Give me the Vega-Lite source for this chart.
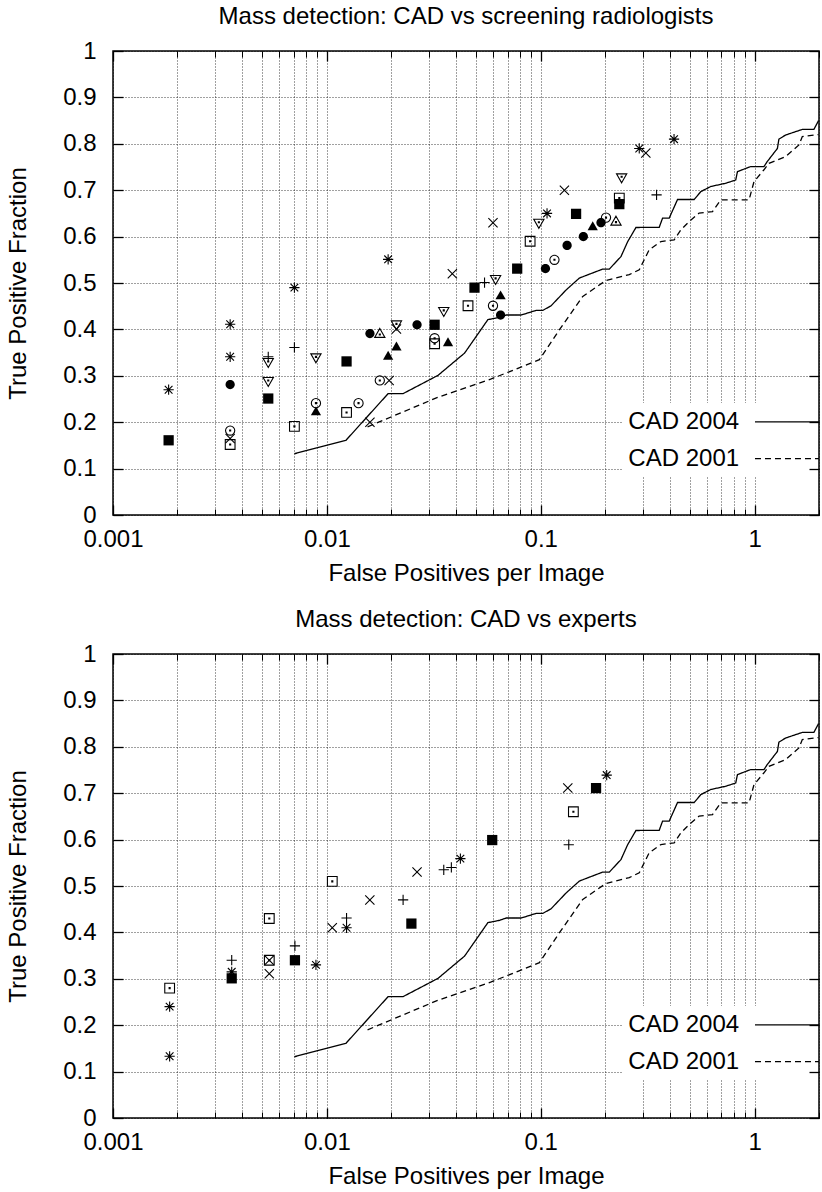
{
  "$schema": "https://vega.github.io/schema/vega-lite/v6.json",
  "padding": {"left": 5, "top": 4, "right": 0, "bottom": 0},
  "autosize": {"type": "pad"},
  "config": {
    "font": "Liberation Sans",
    "view": {"stroke": "black", "strokeWidth": 1.5},
    "axis": {"labelFontSize": 24, "titleFontSize": 24, "titleFontWeight": "normal", "labelColor": "black", "titleColor": "black", "tickColor": "black", "domain": false, "gridColor": "black", "gridDash": [1, 2], "gridOpacity": 0.75, "gridWidth": 1, "labelFlush": false},
    "title": {"fontSize": 24, "fontWeight": "normal", "color": "black", "font": "Liberation Sans"}
  },
  "datasets": {
    "curves": [
      {"s": "CAD 2004", "x": 0.00705, "y": 0.132}, {"s": "CAD 2004", "x": 0.01228, "y": 0.161}, {"s": "CAD 2004", "x": 0.01934, "y": 0.2616}, {"s": "CAD 2004", "x": 0.02272, "y": 0.2616}, {"s": "CAD 2004", "x": 0.0331, "y": 0.301}, {"s": "CAD 2004", "x": 0.04406, "y": 0.349}, {"s": "CAD 2004", "x": 0.0566, "y": 0.421}, {"s": "CAD 2004", "x": 0.0642, "y": 0.426}, {"s": "CAD 2004", "x": 0.0689, "y": 0.431}, {"s": "CAD 2004", "x": 0.081, "y": 0.431}, {"s": "CAD 2004", "x": 0.0952, "y": 0.441}, {"s": "CAD 2004", "x": 0.1023, "y": 0.441}, {"s": "CAD 2004", "x": 0.1118, "y": 0.451}, {"s": "CAD 2004", "x": 0.1314, "y": 0.485}, {"s": "CAD 2004", "x": 0.1516, "y": 0.5107}, {"s": "CAD 2004", "x": 0.1949, "y": 0.53}, {"s": "CAD 2004", "x": 0.2093, "y": 0.53}, {"s": "CAD 2004", "x": 0.2372, "y": 0.557}, {"s": "CAD 2004", "x": 0.2549, "y": 0.589}, {"s": "CAD 2004", "x": 0.2787, "y": 0.6196}, {"s": "CAD 2004", "x": 0.358, "y": 0.62}, {"s": "CAD 2004", "x": 0.3713, "y": 0.64}, {"s": "CAD 2004", "x": 0.3988, "y": 0.64}, {"s": "CAD 2004", "x": 0.4362, "y": 0.68}, {"s": "CAD 2004", "x": 0.5217, "y": 0.68}, {"s": "CAD 2004", "x": 0.5605, "y": 0.697}, {"s": "CAD 2004", "x": 0.6239, "y": 0.708}, {"s": "CAD 2004", "x": 0.7331, "y": 0.715}, {"s": "CAD 2004", "x": 0.816, "y": 0.722}, {"s": "CAD 2004", "x": 0.8313, "y": 0.74}, {"s": "CAD 2004", "x": 0.959, "y": 0.751}, {"s": "CAD 2004", "x": 1.106, "y": 0.751}, {"s": "CAD 2004", "x": 1.147, "y": 0.762}, {"s": "CAD 2004", "x": 1.278, "y": 0.79}, {"s": "CAD 2004", "x": 1.299, "y": 0.81}, {"s": "CAD 2004", "x": 1.397, "y": 0.819}, {"s": "CAD 2004", "x": 1.671, "y": 0.831}, {"s": "CAD 2004", "x": 1.893, "y": 0.831}, {"s": "CAD 2004", "x": 1.99, "y": 0.85},
      {"s": "CAD 2001", "x": 0.0155, "y": 0.19}, {"s": "CAD 2001", "x": 0.0325, "y": 0.2523}, {"s": "CAD 2001", "x": 0.0587, "y": 0.2932}, {"s": "CAD 2001", "x": 0.0986, "y": 0.3348}, {"s": "CAD 2001", "x": 0.1223, "y": 0.3994}, {"s": "CAD 2001", "x": 0.1572, "y": 0.471}, {"s": "CAD 2001", "x": 0.2019, "y": 0.5055}, {"s": "CAD 2001", "x": 0.2594, "y": 0.518}, {"s": "CAD 2001", "x": 0.2888, "y": 0.5285}, {"s": "CAD 2001", "x": 0.3047, "y": 0.55}, {"s": "CAD 2001", "x": 0.3214, "y": 0.5716}, {"s": "CAD 2001", "x": 0.3646, "y": 0.5894}, {"s": "CAD 2001", "x": 0.4206, "y": 0.593}, {"s": "CAD 2001", "x": 0.4519, "y": 0.6146}, {"s": "CAD 2001", "x": 0.4943, "y": 0.6325}, {"s": "CAD 2001", "x": 0.5502, "y": 0.6506}, {"s": "CAD 2001", "x": 0.6354, "y": 0.654}, {"s": "CAD 2001", "x": 0.6947, "y": 0.679}, {"s": "CAD 2001", "x": 0.9415, "y": 0.679}, {"s": "CAD 2001", "x": 0.9936, "y": 0.7186}, {"s": "CAD 2001", "x": 1.106, "y": 0.744}, {"s": "CAD 2001", "x": 1.167, "y": 0.758}, {"s": "CAD 2001", "x": 1.397, "y": 0.7725}, {"s": "CAD 2001", "x": 1.611, "y": 0.7976}, {"s": "CAD 2001", "x": 1.671, "y": 0.8155}, {"s": "CAD 2001", "x": 1.99, "y": 0.82}
    ],
    "box": [{"x": 0.2416, "x2": 1.97, "y": 0.0835, "y2": 0.2415}],
    "keytext": [{"t": "CAD 2004", "x": 0.846, "y": 0.2006}, {"t": "CAD 2001", "x": 0.846, "y": 0.1216}],
    "keylines": [{"s": "CAD 2004", "x": 1.004, "y": 0.2006}, {"s": "CAD 2004", "x": 2, "y": 0.2006}, {"s": "CAD 2001", "x": 1.004, "y": 0.1216}, {"s": "CAD 2001", "x": 2, "y": 0.1216}],
    "top": [
      {"m": "plus", "x": 0.00532, "y": 0.341}, {"m": "plus", "x": 0.00705, "y": 0.361}, {"m": "plus", "x": 0.0546, "y": 0.501}, {"m": "plus", "x": 0.348, "y": 0.69},
      {"m": "times", "x": 0.00353, "y": 0.165}, {"m": "times", "x": 0.0159, "y": 0.2}, {"m": "times", "x": 0.01955, "y": 0.29}, {"m": "times", "x": 0.02115, "y": 0.401}, {"m": "times", "x": 0.0386, "y": 0.52}, {"m": "times", "x": 0.0598, "y": 0.63}, {"m": "times", "x": 0.129, "y": 0.7}, {"m": "times", "x": 0.31, "y": 0.78},
      {"m": "star", "x": 0.00182, "y": 0.27}, {"m": "star", "x": 0.00353, "y": 0.411}, {"m": "star", "x": 0.00353, "y": 0.341}, {"m": "star", "x": 0.00705, "y": 0.49}, {"m": "star", "x": 0.01934, "y": 0.551}, {"m": "star", "x": 0.107, "y": 0.65}, {"m": "star", "x": 0.2888, "y": 0.79}, {"m": "star", "x": 0.42, "y": 0.81},
      {"m": "osq", "x": 0.00353, "y": 0.152}, {"m": "osq", "x": 0.00705, "y": 0.191}, {"m": "osq", "x": 0.01236, "y": 0.221}, {"m": "osq", "x": 0.0319, "y": 0.369}, {"m": "osq", "x": 0.0457, "y": 0.451}, {"m": "osq", "x": 0.0892, "y": 0.59}, {"m": "osq", "x": 0.233, "y": 0.683},
      {"m": "fsq", "x": 0.00182, "y": 0.161}, {"m": "fsq", "x": 0.00532, "y": 0.251}, {"m": "fsq", "x": 0.01236, "y": 0.331}, {"m": "fsq", "x": 0.0319, "y": 0.41}, {"m": "fsq", "x": 0.049, "y": 0.49}, {"m": "fsq", "x": 0.0776, "y": 0.531}, {"m": "fsq", "x": 0.1463, "y": 0.649}, {"m": "fsq", "x": 0.233, "y": 0.67},
      {"m": "ocirc", "x": 0.00353, "y": 0.182}, {"m": "ocirc", "x": 0.00889, "y": 0.241}, {"m": "ocirc", "x": 0.01406, "y": 0.241}, {"m": "ocirc", "x": 0.01768, "y": 0.29}, {"m": "ocirc", "x": 0.0319, "y": 0.381}, {"m": "ocirc", "x": 0.0598, "y": 0.451}, {"m": "ocirc", "x": 0.1159, "y": 0.55}, {"m": "ocirc", "x": 0.2019, "y": 0.641},
      {"m": "fcirc", "x": 0.00353, "y": 0.281}, {"m": "fcirc", "x": 0.0159, "y": 0.391}, {"m": "fcirc", "x": 0.0264, "y": 0.41}, {"m": "fcirc", "x": 0.0649, "y": 0.431}, {"m": "fcirc", "x": 0.1052, "y": 0.531}, {"m": "fcirc", "x": 0.1328, "y": 0.581}, {"m": "fcirc", "x": 0.1582, "y": 0.6}, {"m": "fcirc", "x": 0.1913, "y": 0.63},
      {"m": "otri", "x": 0.01768, "y": 0.391}, {"m": "otri", "x": 0.2248, "y": 0.633},
      {"m": "ftri", "x": 0.00889, "y": 0.223}, {"m": "ftri", "x": 0.01934, "y": 0.343}, {"m": "ftri", "x": 0.02115, "y": 0.363}, {"m": "ftri", "x": 0.03685, "y": 0.372}, {"m": "ftri", "x": 0.0649, "y": 0.473}, {"m": "ftri", "x": 0.175, "y": 0.622},
      {"m": "otrid", "x": 0.00532, "y": 0.329}, {"m": "otrid", "x": 0.00532, "y": 0.288}, {"m": "otrid", "x": 0.00889, "y": 0.339}, {"m": "otrid", "x": 0.02115, "y": 0.41}, {"m": "otrid", "x": 0.0352, "y": 0.439}, {"m": "otrid", "x": 0.0615, "y": 0.508}, {"m": "otrid", "x": 0.098, "y": 0.629}, {"m": "otrid", "x": 0.2389, "y": 0.727}
    ],
    "bottom": [
      {"m": "osq", "x": 0.00184, "y": 0.28}, {"m": "osq", "x": 0.00538, "y": 0.43}, {"m": "osq", "x": 0.00538, "y": 0.34}, {"m": "osq", "x": 0.0106, "y": 0.51}, {"m": "osq", "x": 0.1421, "y": 0.66},
      {"m": "star", "x": 0.00184, "y": 0.24}, {"m": "star", "x": 0.00184, "y": 0.133}, {"m": "star", "x": 0.00359, "y": 0.315}, {"m": "star", "x": 0.00889, "y": 0.33}, {"m": "star", "x": 0.01236, "y": 0.41}, {"m": "star", "x": 0.0421, "y": 0.559}, {"m": "star", "x": 0.2034, "y": 0.739},
      {"m": "plus", "x": 0.00359, "y": 0.34}, {"m": "plus", "x": 0.00709, "y": 0.371}, {"m": "plus", "x": 0.01236, "y": 0.431}, {"m": "plus", "x": 0.02272, "y": 0.47}, {"m": "plus", "x": 0.0352, "y": 0.535}, {"m": "plus", "x": 0.0382, "y": 0.54}, {"m": "plus", "x": 0.1352, "y": 0.589},
      {"m": "times", "x": 0.00538, "y": 0.34}, {"m": "times", "x": 0.00538, "y": 0.311}, {"m": "times", "x": 0.0106, "y": 0.41}, {"m": "times", "x": 0.01588, "y": 0.47}, {"m": "times", "x": 0.0264, "y": 0.53}, {"m": "times", "x": 0.1338, "y": 0.711},
      {"m": "fsq", "x": 0.00359, "y": 0.301}, {"m": "fsq", "x": 0.00709, "y": 0.34}, {"m": "fsq", "x": 0.02484, "y": 0.419}, {"m": "fsq", "x": 0.0593, "y": 0.599}, {"m": "fsq", "x": 0.1814, "y": 0.711}
    ]
  },
  "spacing": 21,
  "vconcat": [
    {
      "width": 706, "height": 464,
      "title": {"text": "Mass detection: CAD vs screening radiologists", "offset": 10},
      "resolve": {"axis": {"x": "independent", "y": "independent"}},
      "layer": [
        {
          "data": {"name": "box"},
          "mark": {"type": "rect", "fill": "white", "strokeWidth": 0},
          "encoding": {
            "x": {"field": "x", "type": "quantitative", "scale": {"type": "log", "domain": [0.001, 2], "nice": false}, "axis": {"orient": "top", "values": [0.001, 0.01, 0.1, 1], "tickSize": -10, "tickWidth": 1.3, "labels": false, "grid": false, "title": null, "zindex": 1}},
            "x2": {"field": "x2"},
            "y": {"field": "y", "type": "quantitative", "scale": {"domain": [0, 1], "nice": false}, "axis": null},
            "y2": {"field": "y2"}
          }
        },
        {
          "data": {"name": "curves"},
          "mark": {"type": "line", "color": "black", "strokeWidth": 1.3, "clip": true},
          "encoding": {
            "x": {"field": "x", "type": "quantitative", "scale": {"type": "log", "domain": [0.001, 2], "nice": false}, "axis": {"orient": "bottom", "values": [0.001, 0.002, 0.003, 0.004, 0.005, 0.006, 0.007, 0.008, 0.009, 0.01, 0.02, 0.03, 0.04, 0.05, 0.06, 0.07, 0.08, 0.09, 0.1, 0.2, 0.3, 0.4, 0.5, 0.6, 0.7, 0.8, 0.9, 1, 2], "grid": true, "tickSize": -6, "labels": false, "title": null, "zindex": 0}},
            "y": {"field": "y", "type": "quantitative", "scale": {"domain": [0, 1], "nice": false}, "axis": {"orient": "left", "values": [0, 0.1, 0.2, 0.3, 0.4, 0.5, 0.6, 0.7, 0.8, 0.9, 1], "grid": true, "tickSize": -10, "tickWidth": 1.3, "labelPadding": 27, "format": ".1~f", "title": "True Positive Fraction", "titlePadding": 32, "zindex": 0}},
            "strokeDash": {"field": "s", "type": "nominal", "scale": {"domain": ["CAD 2004", "CAD 2001"], "range": [[1, 0], [6, 4]]}, "legend": null}
          }
        },
        {
          "data": {"name": "keylines"},
          "mark": {"type": "line", "color": "black", "strokeWidth": 1.3, "clip": true},
          "encoding": {
            "x": {"field": "x", "type": "quantitative", "scale": {"type": "log", "domain": [0.001, 2], "nice": false}, "axis": null},
            "y": {"field": "y", "type": "quantitative", "scale": {"domain": [0, 1], "nice": false}, "axis": null},
            "strokeDash": {"field": "s", "type": "nominal", "scale": {"domain": ["CAD 2004", "CAD 2001"], "range": [[1, 0], [6, 4]]}, "legend": null}
          }
        },
        {
          "data": {"name": "keytext"},
          "mark": {"type": "text", "align": "right", "baseline": "middle", "fontSize": 24, "color": "black"},
          "encoding": {
            "x": {"field": "x", "type": "quantitative", "scale": {"type": "log", "domain": [0.001, 2], "nice": false}, "axis": null},
            "y": {"field": "y", "type": "quantitative", "scale": {"domain": [0, 1], "nice": false}, "axis": null},
            "text": {"field": "t"}
          }
        },
        {
          "data": {"name": "top"},
          "transform": [{"filter": {"field": "m", "oneOf": ["plus", "times", "star", "osq", "ocirc", "otri", "otrid"]}}],
          "mark": {"type": "point", "filled": false, "stroke": "black", "strokeWidth": 1.1, "opacity": 1, "size": 105},
          "encoding": {
            "x": {"field": "x", "type": "quantitative", "scale": {"type": "log", "domain": [0.001, 2], "nice": false}, "axis": {"orient": "bottom", "values": [0.001, 0.01, 0.1, 1], "tickSize": -10, "tickWidth": 1.3, "labelPadding": 22, "format": "~g", "grid": false, "title": "False Positives per Image", "titlePadding": 10, "zindex": 1}},
            "y": {"field": "y", "type": "quantitative", "scale": {"domain": [0, 1], "nice": false}, "axis": {"orient": "right", "values": [0, 0.1, 0.2, 0.3, 0.4, 0.5, 0.6, 0.7, 0.8, 0.9, 1], "tickSize": -10, "tickWidth": 1.3, "labels": false, "grid": false, "title": null, "zindex": 1}},
            "shape": {"field": "m", "type": "nominal", "legend": null, "scale": {"domain": ["plus", "times", "star", "osq", "ocirc", "otri", "otrid", "fsq", "fcirc", "ftri"], "range": ["M-1,0L1,0M0,-1L0,1", "M-0.9,-0.9L0.9,0.9M-0.9,0.9L0.9,-0.9", "M-1,0L1,0M0,-1L0,1M-0.75,-0.75L0.75,0.75M-0.75,0.75L0.75,-0.75", "M-0.95,-0.95L0.95,-0.95L0.95,0.95L-0.95,0.95ZM-0.1,-0.1L0.1,-0.1L0.1,0.1L-0.1,0.1Z", "M0.9,0A0.9,0.9,0,1,1,-0.9,0A0.9,0.9,0,1,1,0.9,0ZM-0.1,-0.1L0.1,-0.1L0.1,0.1L-0.1,0.1Z", "M0,-1L1,0.75L-1,0.75ZM-0.1,0.07L0.1,0.07L0.1,0.27L-0.1,0.27Z", "M0,1L1,-0.75L-1,-0.75ZM-0.1,-0.27L0.1,-0.27L0.1,-0.07L-0.1,-0.07Z", "M-1,-1L1,-1L1,1L-1,1Z", "M0.9,0A0.9,0.9,0,1,1,-0.9,0A0.9,0.9,0,1,1,0.9,0Z", "M0,-1L1,0.75L-1,0.75Z"]}}
          }
        },
        {
          "data": {"name": "top"},
          "transform": [{"filter": {"field": "m", "oneOf": ["fsq", "fcirc", "ftri"]}}],
          "mark": {"type": "point", "filled": true, "color": "black", "strokeWidth": 0, "opacity": 1, "size": 105},
          "encoding": {
            "x": {"field": "x", "type": "quantitative", "scale": {"type": "log", "domain": [0.001, 2], "nice": false}, "axis": {"orient": "top", "values": [0.001, 0.002, 0.003, 0.004, 0.005, 0.006, 0.007, 0.008, 0.009, 0.01, 0.02, 0.03, 0.04, 0.05, 0.06, 0.07, 0.08, 0.09, 0.1, 0.2, 0.3, 0.4, 0.5, 0.6, 0.7, 0.8, 0.9, 1, 2], "tickSize": -6, "labels": false, "grid": false, "title": null, "zindex": 1}},
            "y": {"field": "y", "type": "quantitative", "scale": {"domain": [0, 1], "nice": false}, "axis": null},
            "shape": {"field": "m", "type": "nominal", "legend": null, "scale": {"domain": ["plus", "times", "star", "osq", "ocirc", "otri", "otrid", "fsq", "fcirc", "ftri"], "range": ["M-1,0L1,0M0,-1L0,1", "M-0.9,-0.9L0.9,0.9M-0.9,0.9L0.9,-0.9", "M-1,0L1,0M0,-1L0,1M-0.75,-0.75L0.75,0.75M-0.75,0.75L0.75,-0.75", "M-0.95,-0.95L0.95,-0.95L0.95,0.95L-0.95,0.95ZM-0.1,-0.1L0.1,-0.1L0.1,0.1L-0.1,0.1Z", "M0.9,0A0.9,0.9,0,1,1,-0.9,0A0.9,0.9,0,1,1,0.9,0ZM-0.1,-0.1L0.1,-0.1L0.1,0.1L-0.1,0.1Z", "M0,-1L1,0.75L-1,0.75ZM-0.1,0.07L0.1,0.07L0.1,0.27L-0.1,0.27Z", "M0,1L1,-0.75L-1,-0.75ZM-0.1,-0.27L0.1,-0.27L0.1,-0.07L-0.1,-0.07Z", "M-1,-1L1,-1L1,1L-1,1Z", "M0.9,0A0.9,0.9,0,1,1,-0.9,0A0.9,0.9,0,1,1,0.9,0Z", "M0,-1L1,0.75L-1,0.75Z"]}}
          }
        }
      ]
    },
    {
      "width": 706, "height": 464,
      "title": {"text": "Mass detection: CAD vs experts", "offset": 10},
      "resolve": {"axis": {"x": "independent", "y": "independent"}},
      "layer": [
        {
          "data": {"name": "box"},
          "mark": {"type": "rect", "fill": "white", "strokeWidth": 0},
          "encoding": {
            "x": {"field": "x", "type": "quantitative", "scale": {"type": "log", "domain": [0.001, 2], "nice": false}, "axis": {"orient": "top", "values": [0.001, 0.01, 0.1, 1], "tickSize": -10, "tickWidth": 1.3, "labels": false, "grid": false, "title": null, "zindex": 1}},
            "x2": {"field": "x2"},
            "y": {"field": "y", "type": "quantitative", "scale": {"domain": [0, 1], "nice": false}, "axis": null},
            "y2": {"field": "y2"}
          }
        },
        {
          "data": {"name": "curves"},
          "mark": {"type": "line", "color": "black", "strokeWidth": 1.3, "clip": true},
          "encoding": {
            "x": {"field": "x", "type": "quantitative", "scale": {"type": "log", "domain": [0.001, 2], "nice": false}, "axis": {"orient": "bottom", "values": [0.001, 0.002, 0.003, 0.004, 0.005, 0.006, 0.007, 0.008, 0.009, 0.01, 0.02, 0.03, 0.04, 0.05, 0.06, 0.07, 0.08, 0.09, 0.1, 0.2, 0.3, 0.4, 0.5, 0.6, 0.7, 0.8, 0.9, 1, 2], "grid": true, "tickSize": -6, "labels": false, "title": null, "zindex": 0}},
            "y": {"field": "y", "type": "quantitative", "scale": {"domain": [0, 1], "nice": false}, "axis": {"orient": "left", "values": [0, 0.1, 0.2, 0.3, 0.4, 0.5, 0.6, 0.7, 0.8, 0.9, 1], "grid": true, "tickSize": -10, "tickWidth": 1.3, "labelPadding": 27, "format": ".1~f", "title": "True Positive Fraction", "titlePadding": 32, "zindex": 0}},
            "strokeDash": {"field": "s", "type": "nominal", "scale": {"domain": ["CAD 2004", "CAD 2001"], "range": [[1, 0], [6, 4]]}, "legend": null}
          }
        },
        {
          "data": {"name": "keylines"},
          "mark": {"type": "line", "color": "black", "strokeWidth": 1.3, "clip": true},
          "encoding": {
            "x": {"field": "x", "type": "quantitative", "scale": {"type": "log", "domain": [0.001, 2], "nice": false}, "axis": null},
            "y": {"field": "y", "type": "quantitative", "scale": {"domain": [0, 1], "nice": false}, "axis": null},
            "strokeDash": {"field": "s", "type": "nominal", "scale": {"domain": ["CAD 2004", "CAD 2001"], "range": [[1, 0], [6, 4]]}, "legend": null}
          }
        },
        {
          "data": {"name": "keytext"},
          "mark": {"type": "text", "align": "right", "baseline": "middle", "fontSize": 24, "color": "black"},
          "encoding": {
            "x": {"field": "x", "type": "quantitative", "scale": {"type": "log", "domain": [0.001, 2], "nice": false}, "axis": null},
            "y": {"field": "y", "type": "quantitative", "scale": {"domain": [0, 1], "nice": false}, "axis": null},
            "text": {"field": "t"}
          }
        },
        {
          "data": {"name": "bottom"},
          "transform": [{"filter": {"field": "m", "oneOf": ["plus", "times", "star", "osq", "ocirc", "otri", "otrid"]}}],
          "mark": {"type": "point", "filled": false, "stroke": "black", "strokeWidth": 1.1, "opacity": 1, "size": 105},
          "encoding": {
            "x": {"field": "x", "type": "quantitative", "scale": {"type": "log", "domain": [0.001, 2], "nice": false}, "axis": {"orient": "bottom", "values": [0.001, 0.01, 0.1, 1], "tickSize": -10, "tickWidth": 1.3, "labelPadding": 22, "format": "~g", "grid": false, "title": "False Positives per Image", "titlePadding": 10, "zindex": 1}},
            "y": {"field": "y", "type": "quantitative", "scale": {"domain": [0, 1], "nice": false}, "axis": {"orient": "right", "values": [0, 0.1, 0.2, 0.3, 0.4, 0.5, 0.6, 0.7, 0.8, 0.9, 1], "tickSize": -10, "tickWidth": 1.3, "labels": false, "grid": false, "title": null, "zindex": 1}},
            "shape": {"field": "m", "type": "nominal", "legend": null, "scale": {"domain": ["plus", "times", "star", "osq", "ocirc", "otri", "otrid", "fsq", "fcirc", "ftri"], "range": ["M-1,0L1,0M0,-1L0,1", "M-0.9,-0.9L0.9,0.9M-0.9,0.9L0.9,-0.9", "M-1,0L1,0M0,-1L0,1M-0.75,-0.75L0.75,0.75M-0.75,0.75L0.75,-0.75", "M-0.95,-0.95L0.95,-0.95L0.95,0.95L-0.95,0.95ZM-0.1,-0.1L0.1,-0.1L0.1,0.1L-0.1,0.1Z", "M0.9,0A0.9,0.9,0,1,1,-0.9,0A0.9,0.9,0,1,1,0.9,0ZM-0.1,-0.1L0.1,-0.1L0.1,0.1L-0.1,0.1Z", "M0,-1L1,0.75L-1,0.75ZM-0.1,0.07L0.1,0.07L0.1,0.27L-0.1,0.27Z", "M0,1L1,-0.75L-1,-0.75ZM-0.1,-0.27L0.1,-0.27L0.1,-0.07L-0.1,-0.07Z", "M-1,-1L1,-1L1,1L-1,1Z", "M0.9,0A0.9,0.9,0,1,1,-0.9,0A0.9,0.9,0,1,1,0.9,0Z", "M0,-1L1,0.75L-1,0.75Z"]}}
          }
        },
        {
          "data": {"name": "bottom"},
          "transform": [{"filter": {"field": "m", "oneOf": ["fsq", "fcirc", "ftri"]}}],
          "mark": {"type": "point", "filled": true, "color": "black", "strokeWidth": 0, "opacity": 1, "size": 105},
          "encoding": {
            "x": {"field": "x", "type": "quantitative", "scale": {"type": "log", "domain": [0.001, 2], "nice": false}, "axis": {"orient": "top", "values": [0.001, 0.002, 0.003, 0.004, 0.005, 0.006, 0.007, 0.008, 0.009, 0.01, 0.02, 0.03, 0.04, 0.05, 0.06, 0.07, 0.08, 0.09, 0.1, 0.2, 0.3, 0.4, 0.5, 0.6, 0.7, 0.8, 0.9, 1, 2], "tickSize": -6, "labels": false, "grid": false, "title": null, "zindex": 1}},
            "y": {"field": "y", "type": "quantitative", "scale": {"domain": [0, 1], "nice": false}, "axis": null},
            "shape": {"field": "m", "type": "nominal", "legend": null, "scale": {"domain": ["plus", "times", "star", "osq", "ocirc", "otri", "otrid", "fsq", "fcirc", "ftri"], "range": ["M-1,0L1,0M0,-1L0,1", "M-0.9,-0.9L0.9,0.9M-0.9,0.9L0.9,-0.9", "M-1,0L1,0M0,-1L0,1M-0.75,-0.75L0.75,0.75M-0.75,0.75L0.75,-0.75", "M-0.95,-0.95L0.95,-0.95L0.95,0.95L-0.95,0.95ZM-0.1,-0.1L0.1,-0.1L0.1,0.1L-0.1,0.1Z", "M0.9,0A0.9,0.9,0,1,1,-0.9,0A0.9,0.9,0,1,1,0.9,0ZM-0.1,-0.1L0.1,-0.1L0.1,0.1L-0.1,0.1Z", "M0,-1L1,0.75L-1,0.75ZM-0.1,0.07L0.1,0.07L0.1,0.27L-0.1,0.27Z", "M0,1L1,-0.75L-1,-0.75ZM-0.1,-0.27L0.1,-0.27L0.1,-0.07L-0.1,-0.07Z", "M-1,-1L1,-1L1,1L-1,1Z", "M0.9,0A0.9,0.9,0,1,1,-0.9,0A0.9,0.9,0,1,1,0.9,0Z", "M0,-1L1,0.75L-1,0.75Z"]}}
          }
        }
      ]
    }
  ]
}
